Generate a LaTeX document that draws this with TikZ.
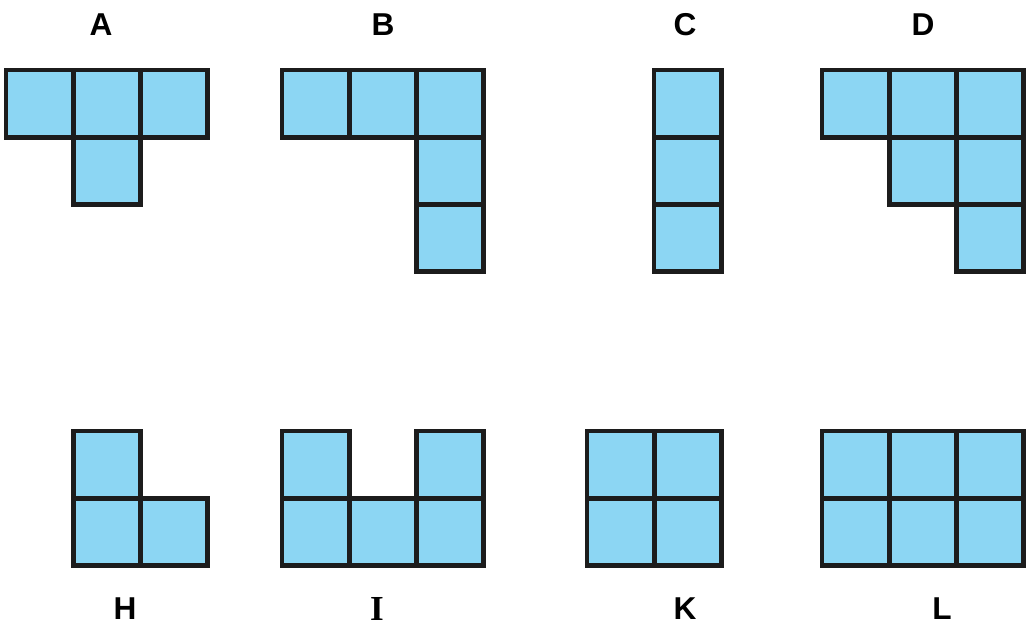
\documentclass[tikz,border=0pt]{standalone}
\usepackage{fontspec}
\setmainfont{Liberation Sans}
\newfontfamily\serifletter{Liberation Serif}
\definecolor{cellblue}{RGB}{140,214,243}
\definecolor{edgeblack}{RGB}{28,28,28}
\newcommand{\sq}[2]{\draw[cell] (#1,#2) rectangle ++(67.3,67.3);}

\begin{document}
\begin{tikzpicture}[
  x=0.02cm, y=-0.02cm,
  every node/.style={inner sep=1pt},
  cell/.style={draw=edgeblack, fill=cellblue, line width=2.8pt, line join=miter},
  lbl/.style={font=\fontsize{18}{18}\selectfont\bfseries}]
  \useasboundingbox (0,0) rectangle (1028,626);

  % top row of shapes
  \foreach \x/\y in {6/70, 73.3/70, 140.6/70, 73.3/137.3} {\sq{\x}{\y}}
  \foreach \x/\y in {282/70, 349.3/70, 416.6/70, 416.6/137.3, 416.6/204.6} {\sq{\x}{\y}}
  \foreach \x/\y in {654/70, 654/137.3, 654/204.6} {\sq{\x}{\y}}
  \foreach \x/\y in {822/70, 889.3/70, 956.6/70, 889.3/137.3, 956.6/137.3, 956.6/204.6} {\sq{\x}{\y}}

  % bottom row of shapes
  \foreach \x/\y in {73.3/431, 73.3/498.3, 140.6/498.3} {\sq{\x}{\y}}
  \foreach \x/\y in {282/431, 416.6/431, 282/498.3, 349.3/498.3, 416.6/498.3} {\sq{\x}{\y}}
  \foreach \x/\y in {587/431, 654.3/431, 587/498.3, 654.3/498.3} {\sq{\x}{\y}}
  \foreach \x/\y in {822/431, 889.3/431, 956.6/431, 822/498.3, 889.3/498.3, 956.6/498.3} {\sq{\x}{\y}}

  % labels
  \node[lbl] (la) at (101,25) {A};
  \node[lbl] (lb) at (383,25) {B};
  \node[lbl] (lc) at (685,25) {C};
  \node[lbl] (ld) at (923,25) {D};
  \node[lbl] (lh) at (125,609) {H};
  \node[font=\fontsize{20}{20}\selectfont\serifletter\bfseries] (li) at (377,609) {I};
  \node[lbl] (lk) at (685,609) {K};
  \node[lbl] (ll) at (942,609) {L};
\end{tikzpicture}
\end{document}
